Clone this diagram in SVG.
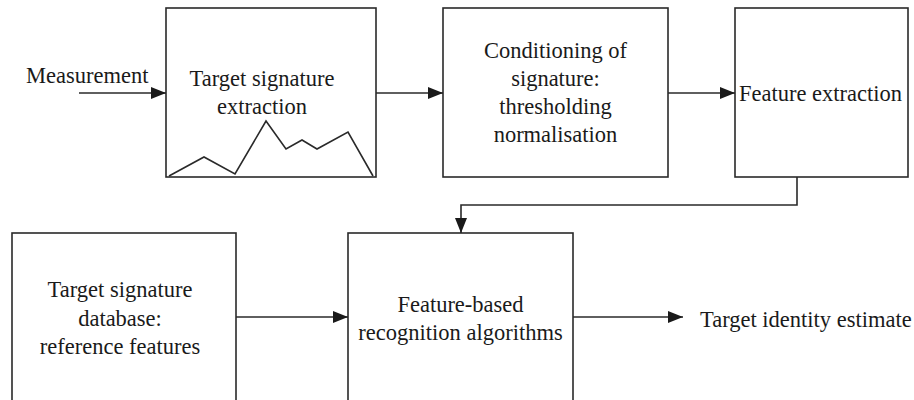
<svg xmlns="http://www.w3.org/2000/svg" width="914" height="400" viewBox="0 0 914 400">
  <style>
    .box { fill: #ffffff; stroke: #2a2a2a; stroke-width: 1.6; }
    .lbl { font-size: 22.5px; fill: #1a1a1a; }
    .mid { text-anchor: middle; }
    .wire { fill: none; stroke: #2a2a2a; stroke-width: 1.6; }
  </style>
  <defs>
    <marker id="arrow" markerUnits="userSpaceOnUse" markerWidth="16" markerHeight="12" refX="15" refY="6" orient="auto">
      <path d="M0,0 L15,6 L0,12 Z" fill="#1a1a1a"/>
    </marker>
  </defs>
  <rect width="914" height="400" fill="#ffffff"/>

  <g font-family="Liberation Serif, DejaVu Serif, serif">
  <g id="measurement-input">
    <text class="lbl" x="26" y="83">Measurement</text>
  </g>

  <g id="signature-extraction">
    <rect class="box" x="166" y="8" width="210" height="169"/>
    <text class="lbl mid" x="262" y="86">Target signature</text>
    <text class="lbl mid" x="262" y="114">extraction</text>
    <polyline class="wire" points="169,176 204,157 235,174 266,121 286,149 302,140 317,149 348,132 373,176"/>
  </g>

  <g id="conditioning">
    <rect class="box" x="443" y="8" width="225" height="169"/>
    <text class="lbl mid" x="555.5" y="58">Conditioning of</text>
    <text class="lbl mid" x="555.5" y="86">signature:</text>
    <text class="lbl mid" x="555.5" y="114">thresholding</text>
    <text class="lbl mid" x="555.5" y="142">normalisation</text>
  </g>

  <g id="feature-extraction">
    <rect class="box" x="735" y="8" width="173" height="169"/>
    <text class="lbl" x="739" y="101">Feature extraction</text>
  </g>

  <g id="signature-database">
    <rect class="box" x="12" y="233" width="224" height="180"/>
    <text class="lbl mid" x="120" y="297">Target signature</text>
    <text class="lbl mid" x="120" y="326">database:</text>
    <text class="lbl mid" x="120" y="354">reference features</text>
  </g>

  <g id="recognition">
    <rect class="box" x="348" y="233" width="225" height="180"/>
    <text class="lbl mid" x="460.5" y="312">Feature-based</text>
    <text class="lbl mid" x="460.5" y="340">recognition algorithms</text>
  </g>

  <g id="identity-output">
    <text class="lbl" x="700" y="327">Target identity estimate</text>
  </g>
  </g>

  <g id="connectors">
    <line class="wire" x1="79" y1="93" x2="166" y2="93" marker-end="url(#arrow)"/>
    <line class="wire" x1="376" y1="93" x2="443" y2="93" marker-end="url(#arrow)"/>
    <line class="wire" x1="668" y1="93" x2="735" y2="93" marker-end="url(#arrow)"/>
    <polyline class="wire" points="797,177 797,205 461,205 461,233" marker-end="url(#arrow)"/>
    <line class="wire" x1="236" y1="317" x2="348" y2="317" marker-end="url(#arrow)"/>
    <line class="wire" x1="573" y1="317" x2="683" y2="317" marker-end="url(#arrow)"/>
  </g>
</svg>
